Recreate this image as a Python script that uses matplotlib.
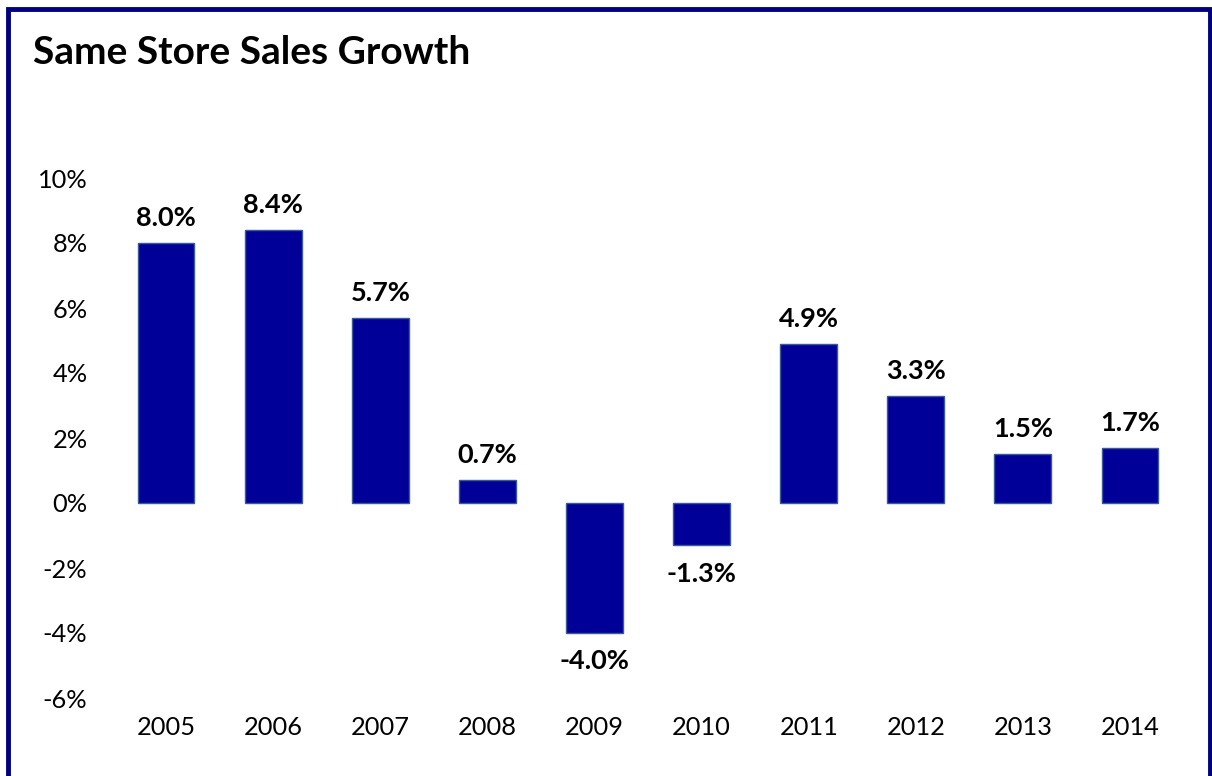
import matplotlib.pyplot as plt
from matplotlib.patches import Rectangle

years = ['2005', '2006', '2007', '2008', '2009', '2010', '2011', '2012', '2013', '2014']
growth = [8.0, 8.4, 5.7, 0.7, -4.0, -1.3, 4.9, 3.3, 1.5, 1.7]
yticks = [-6, -4, -2, 0, 2, 4, 6, 8, 10]

plt.rcParams['font.family'] = ['Lato', 'DejaVu Sans']

fig = plt.figure(figsize=(12.12, 7.76), dpi=100)
ax = fig.add_axes([112.5 / 1212, 1 - 698 / 776, (1183.5 - 112.5) / 1212, (698 - 178) / 776])

x = range(len(years))
ax.bar(x, growth, width=0.53, color='#000099', edgecolor='#3a5a9a', linewidth=1)

for i, v in enumerate(growth):
    if v >= 0:
        ax.text(i, v + 0.4, '%.1f%%' % v, ha='center', va='bottom',
                fontsize=19.5, fontweight='bold')
    else:
        ax.text(i, v - 0.5, '%.1f%%' % v, ha='center', va='top',
                fontsize=19.5, fontweight='bold')

ax.set_xlim(-0.5, len(years) - 0.5)
ax.set_ylim(-6, 10)
ax.set_xticks(list(x))
ax.set_xticklabels(years, fontsize=18.3)
ax.set_yticks(yticks)
ax.set_yticklabels(['%d%%' % t for t in yticks], fontsize=18.3)
ax.tick_params(length=0, pad=13)
ax.tick_params(axis='y', pad=18)
for s in ax.spines.values():
    s.set_visible(False)

fig.text(33 / 1212, 1 - 53 / 776, 'Same Store Sales Growth', fontsize=28,
         fontweight='bold', va='center', ha='left')

# frame around the chart (bottom edge is cut off in the reference)
fig.add_artist(Rectangle((7.5 / 1212, -0.05), (1210 - 7.5) / 1212, 1.05 - 9.5 / 776,
                         transform=fig.transFigure, fill=False,
                         edgecolor='#000080', linewidth=3.5))

fig.savefig('out.png', dpi=100)
